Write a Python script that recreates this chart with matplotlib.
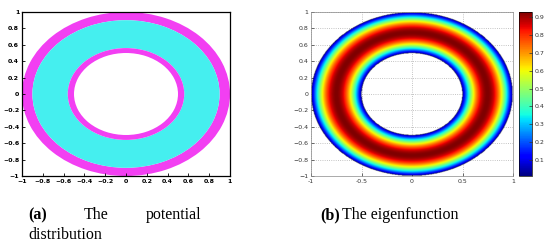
import numpy as np
import matplotlib
matplotlib.use("Agg")
import matplotlib.pyplot as plt
from matplotlib.patches import Wedge

# annulus geometry
r_inner = 0.5
r_outer = 1.0
inner_band = 0.56      # magenta ring from r_inner to here
outer_band = 0.90      # magenta ring from here to r_outer
peak_value = 0.93      # max of the eigenfunction
floor_value = 0.01

ticks_a = [-1, -0.8, -0.6, -0.4, -0.2, 0, 0.2, 0.4, 0.6, 0.8, 1]
ticks_bx = [-1, -0.5, 0, 0.5, 1]
ticks_by = [-1, -0.8, -0.6, -0.4, -0.2, 0, 0.2, 0.4, 0.6, 0.8, 1]
cbar_ticks = [0.1, 0.2, 0.3, 0.4, 0.5, 0.6, 0.7, 0.8, 0.9]

magenta = "#f23ff2"
cyan = "#45efef"

W, H = 553, 248
fig = plt.figure(figsize=(W / 100, H / 100), dpi=100)

def px(l, t, r, b):
    return [l / W, 1 - b / H, (r - l) / W, (b - t) / H]

lab = lambda v: "0" if v == 0 else ("%g" % v).replace("-", "\u2212")

# (a) potential distribution
ax1 = fig.add_axes(px(22, 12, 230, 176))
ax1.add_patch(Wedge((0, 0), r_outer, 0, 360, width=r_outer - outer_band, color=magenta, lw=0))
ax1.add_patch(Wedge((0, 0), outer_band, 0, 360, width=outer_band - inner_band, color=cyan, lw=0))
ax1.add_patch(Wedge((0, 0), inner_band, 0, 360, width=inner_band - r_inner, color=magenta, lw=0))
ax1.set_xlim(-1, 1)
ax1.set_ylim(-1, 1)
ax1.set_xticks(ticks_a)
ax1.set_yticks(ticks_a)
ax1.set_xticklabels([lab(v) for v in ticks_a])
ax1.set_yticklabels([lab(v) for v in ticks_a])
ax1.tick_params(direction="in", length=2, width=0.6, labelsize=4.5, pad=2)
for t in ax1.get_xticklabels() + ax1.get_yticklabels():
    t.set_fontweight("bold")
for s in ax1.spines.values():
    s.set_linewidth(0.9)

# (b) eigenfunction
ax2 = fig.add_axes(px(311, 12, 513, 176))
n = 400
xs = np.linspace(-1, 1, n)
X, Y = np.meshgrid(xs, xs)
R = np.hypot(X, Y)
U = floor_value + (peak_value - floor_value) * np.sin(np.pi * (R - r_inner) / (r_outer - r_inner))
U = np.ma.masked_where((R < r_inner) | (R > r_outer), U)
im = ax2.imshow(U, extent=(-1, 1, -1, 1), origin="lower", cmap="jet",
                vmin=floor_value, vmax=peak_value, aspect="auto", interpolation="bilinear",
                zorder=2)
ax2.set_xlim(-1, 1)
ax2.set_ylim(-1, 1)
ax2.set_xticks(ticks_bx)
ax2.set_yticks(ticks_by)
ax2.set_xticklabels(["%g" % v for v in ticks_bx])
ax2.set_yticklabels([lab(v) for v in ticks_by])
ax2.grid(True, ls=":", color="#b0b0b0", lw=0.6)
ax2.set_axisbelow(True)
ax2.tick_params(direction="in", length=2, width=0.5, labelsize=4.5, pad=2,
                colors="#333333")
for s in ax2.spines.values():
    s.set_linewidth(0.5)
    s.set_color("#888888")

cax = fig.add_axes(px(519, 12, 532, 176))
cb = fig.colorbar(im, cax=cax, ticks=cbar_ticks)
cb.ax.tick_params(direction="in", length=2, width=0.5, labelsize=4.5, pad=2, colors="#333333")
cb.outline.set_linewidth(0.5)

# captions
serif = "Liberation Serif"
fs = 11.5
fig.text(28 / W, 1 - 215 / H, "(a)", fontsize=fs, fontweight="bold", family=serif, va="center")
fig.text(84 / W, 1 - 215 / H, "The", fontsize=fs, family=serif, va="center")
fig.text(146 / W, 1 - 215 / H, "potential", fontsize=fs, family=serif, va="center")
fig.text(28 / W, 1 - 235 / H, "distribution", fontsize=fs, family=serif, va="center")
fig.text(320 / W, 1 - 215 / H, "(b)", fontsize=fs, fontweight="bold", family=serif, va="center")
fig.text(342 / W, 1 - 215 / H, "The eigenfunction", fontsize=fs, family=serif, va="center")

fig.savefig("out.png", dpi=100)
